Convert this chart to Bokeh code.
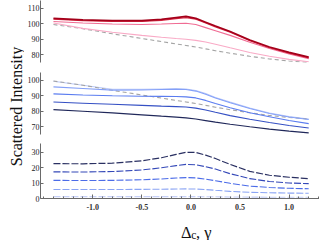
import math
from bokeh.plotting import figure
from bokeh.layouts import row, column
from bokeh.models import Range1d, Label, FixedTicker, NumeralTickFormatter
from bokeh.embed import file_html
from bokeh.resources import INLINE

# ---------------- data ----------------
x = [-1.4, -1.1, -0.8, -0.5, -0.3, -0.15, -0.05, 0.05, 0.15, 0.25, 0.4, 0.6, 0.8, 1.0, 1.2]

# grey dashed reference curve (drawn in the top and the middle panel)
ref_gray = [99.5, 96.8, 93.5, 90.5, 88.5, 87.0, 86.0, 85.0, 83.8, 82.6, 81.0, 79.0, 77.3, 76.0, 75.0]

# top panel (reds)
top_dark_red = [103.5, 102.5, 102.0, 102.0, 102.8, 104.0, 104.8, 103.5, 101.0, 98.5, 95.0, 89.5, 85.0, 81.5, 78.5]
top_red      = [103.0, 102.0, 101.5, 101.5, 102.2, 103.3, 104.0, 103.0, 100.5, 98.0, 94.5, 89.0, 84.5, 81.0, 78.0]
top_pink     = [101.5, 100.5, 99.8, 99.5, 99.8, 100.2, 100.3, 99.5, 97.5, 95.5, 92.5, 88.0, 84.0, 80.5, 77.5]
top_light    = [100.5, 97.0, 94.5, 92.5, 91.3, 90.5, 90.0, 89.3, 88.2, 86.8, 84.5, 81.5, 79.0, 77.0, 75.5]

# middle panel (blues, solid)
mid_pale   = [99.4, 96.8, 94.2, 94.1, 94.4, 94.6, 94.4, 93.4, 91.4, 88.9, 85.9, 82.1, 78.9, 76.6, 75.0]
mid_light  = [95.7, 94.7, 93.6, 93.7, 94.0, 94.2, 94.0, 93.0, 91.0, 88.5, 85.5, 81.8, 78.6, 76.3, 74.7]
mid_medium = [91.2, 90.5, 90.0, 89.7, 89.6, 89.5, 89.3, 88.6, 87.0, 85.0, 82.3, 79.0, 76.5, 74.0, 72.0]
mid_blue   = [86.0, 85.2, 84.5, 83.8, 83.3, 83.0, 82.7, 82.0, 80.8, 79.3, 77.2, 74.8, 72.7, 70.8, 69.2]
mid_navy   = [81.1, 80.0, 78.9, 77.7, 76.8, 76.2, 75.7, 75.0, 74.0, 73.0, 71.6, 70.0, 68.5, 67.2, 66.0]

# bottom panel (blues, dashed)
bot_navy   = [22.5, 22.4, 22.8, 24.3, 26.3, 28.5, 29.8, 29.7, 28.0, 25.8, 22.0, 17.5, 15.0, 13.7, 12.8]
bot_blue   = [17.2, 17.1, 17.4, 18.4, 19.8, 21.2, 22.0, 21.8, 20.5, 19.0, 16.0, 12.8, 11.0, 10.0, 9.6]
bot_medium = [11.7, 11.6, 11.7, 12.1, 12.6, 13.2, 13.5, 13.3, 12.5, 11.5, 9.8, 8.0, 7.1, 6.6, 6.3]
bot_light  = [5.8, 5.8, 5.8, 5.9, 6.0, 6.1, 6.2, 6.1, 5.8, 5.3, 4.6, 4.0, 3.7, 3.5, 3.4]
bot_pale   = [1.2, 1.2, 1.2, 1.2, 1.2, 1.2, 1.2, 1.2, 1.15, 1.1, 1.0, 0.9, 0.85, 0.8, 0.8]

top_ticks = [80, 90, 100, 110]
mid_ticks = [70, 80, 90, 100]
bot_ticks = [0, 10, 20, 30]
x_ticks = [-1.0, -0.5, 0.0, 0.5, 1.0]
x_minor = [-1.5, -1.4, -1.3, -1.2, -1.1, -0.9, -0.8, -0.7, -0.6, -0.4, -0.3, -0.2, -0.1,
           0.1, 0.2, 0.3, 0.4, 0.6, 0.7, 0.8, 0.9, 1.1, 1.2, 1.3]

# ---------------- styling ----------------
FONT = "Liberation Serif"
XR = Range1d(-1.532, 1.31)
LAB_W = 24
PANEL_W = 319 - LAB_W
XL_H = 24
AX_COL = "#6a6a6a"

def make_panel(height, yr, ticks, bottom_border, show_x):
    p = figure(width=PANEL_W, height=height, x_range=XR, y_range=Range1d(*yr),
               output_backend="svg", toolbar_location=None, title=None,
               min_border_left=13, min_border_right=0, min_border_top=0,
               min_border_bottom=bottom_border)
    p.outline_line_color = None
    p.grid.visible = False
    p.background_fill_color = "white"
    ya = p.yaxis[0]
    ya.ticker = FixedTicker(ticks=ticks)
    ya.major_tick_in = 3
    ya.major_tick_out = 0
    ya.minor_tick_line_color = None
    ya.axis_line_color = AX_COL
    ya.axis_line_width = 1
    ya.major_tick_line_color = AX_COL
    ya.major_label_text_font = FONT
    ya.major_label_text_font_size = "8px"
    ya.major_label_text_color = "#222222"
    ya.major_label_standoff = 1
    if show_x:
        xa = p.xaxis[0]
        xa.ticker = FixedTicker(ticks=x_ticks, minor_ticks=x_minor)
        xa.formatter = NumeralTickFormatter(format="0.0")
        xa.major_tick_in = 4
        xa.major_tick_out = 0
        xa.minor_tick_in = 2
        xa.minor_tick_out = 0
        xa.axis_line_color = AX_COL
        xa.axis_line_width = 1
        xa.major_tick_line_color = AX_COL
        xa.minor_tick_line_color = AX_COL
        xa.major_label_text_font = FONT
        xa.major_label_text_font_size = "8px"
        xa.major_label_text_font_style = "bold"
        xa.major_label_text_color = "#333333"
        xa.major_label_standoff = 5
    else:
        p.xaxis.visible = False
    return p

top = make_panel(72, (75, 115), top_ticks, 10, False)
mid = make_panel(71, (65, 105), mid_ticks, 9, False)
bot = make_panel(73, (0, 35.5), bot_ticks, 18, True)

GRAY = "#a4a4a4"
# top panel
top.line(x, ref_gray, line_color=GRAY, line_width=1.1, line_dash="4 3")
top.line(x, top_light, line_color="#f9aac6", line_width=1.1)
top.line(x, top_pink, line_color="#f06c94", line_width=1.1)
top.line(x, top_red, line_color="#dc2c48", line_width=1.2)
top.line(x, top_dark_red, line_color="#a4001a", line_width=1.7)

# middle panel
mid.line(x, mid_pale, line_color="#bccaf8", line_width=1.1)
mid.line(x, ref_gray, line_color=GRAY, line_width=1.1, line_dash="4 3")
mid.line(x, mid_light, line_color="#84a0f8", line_width=1.1)
mid.line(x, mid_medium, line_color="#5a7cf0", line_width=1.1)
mid.line(x, mid_blue, line_color="#3550c4", line_width=1.1)
mid.line(x, mid_navy, line_color="#20285a", line_width=1.2)

# bottom panel
bot.line(x, bot_pale, line_color="#c6d0f8", line_width=1.1, line_dash="7 2")
bot.line(x, bot_light, line_color="#8aa4f4", line_width=1.1, line_dash="7 2")
bot.line(x, bot_medium, line_color="#4c6ce8", line_width=1.1, line_dash="7 2")
bot.line(x, bot_blue, line_color="#3448b8", line_width=1.1, line_dash="7 2")
bot.line(x, bot_navy, line_color="#2a3062", line_width=1.2, line_dash="7 2")

# x-axis label: Δ_c, γ (its own strip below the bottom panel, pixel-sized data ranges)
xl = figure(width=PANEL_W, height=XL_H, x_axis_type=None, y_axis_type=None,
            x_range=Range1d(0, PANEL_W), y_range=Range1d(0, XL_H),
            output_backend="svg", toolbar_location=None, title=None,
            min_border_left=0, min_border_right=0, min_border_top=0, min_border_bottom=0)
xl.outline_line_color = None
xl.grid.visible = False
xl.add_layout(Label(x=148.5, y=8.5, text="Δ",
                    text_font=FONT, text_font_size="16.5px", text_color="#111111",
                    text_baseline="alphabetic", text_align="left"))
xl.add_layout(Label(x=159.5, y=5.5, text="c",
                    text_font=FONT, text_font_size="11.5px", text_color="#111111",
                    text_baseline="alphabetic", text_align="left"))
xl.add_layout(Label(x=164.5, y=8.5, text=", γ",
                    text_font=FONT, text_font_size="16.5px", text_color="#111111",
                    text_baseline="alphabetic", text_align="left"))

# y-axis label strip
lab = figure(width=LAB_W, height=240, x_axis_type=None, y_axis_type=None,
             x_range=Range1d(0, 1), y_range=Range1d(0, 1),
             output_backend="svg", toolbar_location=None, title=None,
             min_border_left=0, min_border_right=0, min_border_top=0, min_border_bottom=0)
lab.outline_line_color = None
lab.grid.visible = False
lab.add_layout(Label(x=16, y=134, x_units="screen", y_units="screen",
                     text="Scattered Intensity", angle=math.pi / 2,
                     text_font=FONT, text_font_size="16px", text_color="#111111",
                     text_align="center", text_baseline="alphabetic"))

layout = row(lab, column(top, mid, bot, xl))

open("out.html", "w").write(file_html(layout, INLINE))
